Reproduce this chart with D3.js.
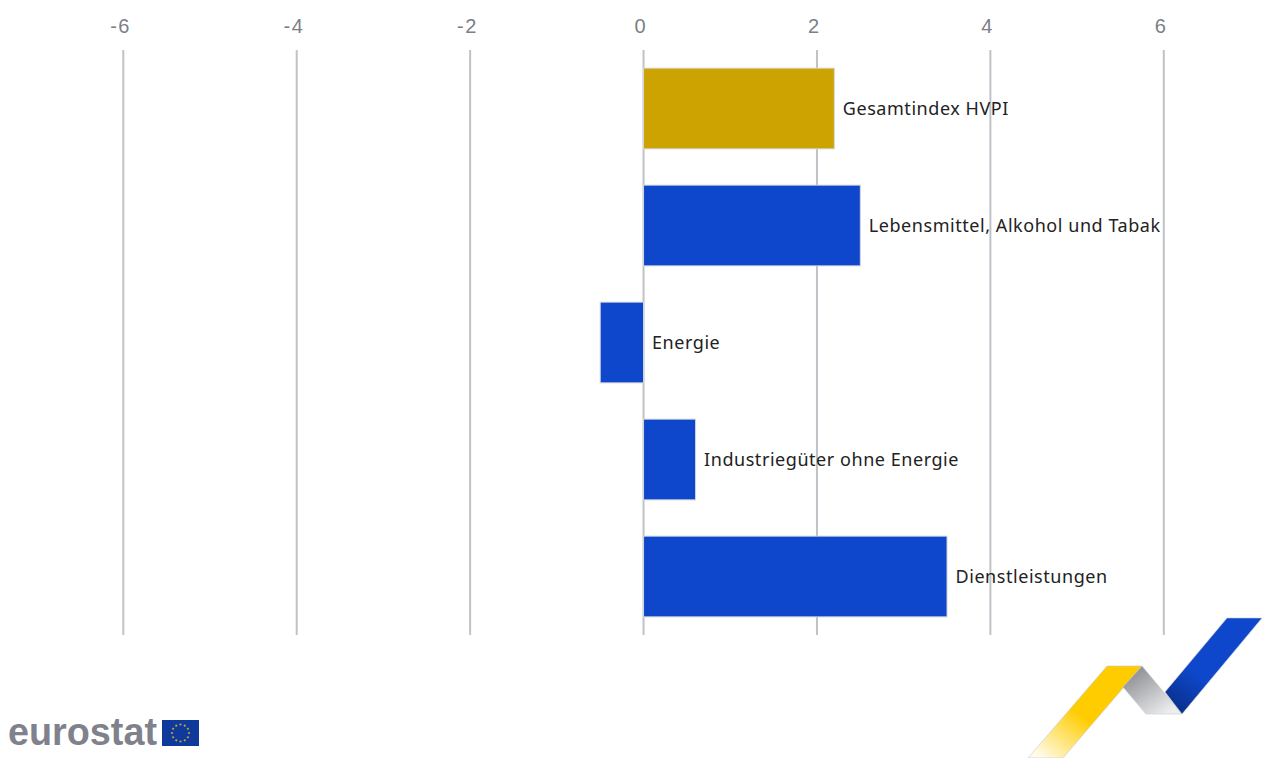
<!DOCTYPE html>
<html>
<head>
<meta charset="utf-8">
<script src="https://cdn.jsdelivr.net/npm/d3@7"></script>
<style>
  html, body { margin: 0; padding: 0; background: #fff; overflow: hidden; }
  svg { display: block; }
</style>
</head>
<body>
<div id="chart"></div>
<script>
var categories = ["Gesamtindex HVPI", "Lebensmittel, Alkohol und Tabak", "Energie", "Industriegüter ohne Energie", "Dienstleistungen"];
var values = [2.2, 2.5, -0.5, 0.6, 3.5];
var tickValues = [-6, -4, -2, 0, 2, 4, 6];
var barColors = ["#cca300", "#0f47cc", "#0f47cc", "#0f47cc", "#0f47cc"];

var width = 1263, height = 758;

var svg = d3.select("#chart").append("svg")
  .attr("width", width)
  .attr("height", height);

var x = d3.scaleLinear().domain([-6, 6]).range([123.3, 1163.8]);
var y = d3.scaleBand().domain(categories).range([50, 635]).paddingInner(0.31).paddingOuter(0.155);

// grid lines
svg.append("g").selectAll("line")
  .data(tickValues)
  .enter()
  .append("line")
  .attr("x1", function(d) { return x(d); })
  .attr("x2", function(d) { return x(d); })
  .attr("y1", 50)
  .attr("y2", 635)
  .attr("stroke", "#bfc2c7")
  .attr("stroke-width", 2);

// tick labels
svg.append("g").selectAll("text")
  .data(tickValues)
  .enter()
  .append("text")
  .attr("x", function(d) { return x(d) - 2.7; })
  .attr("y", 33)
  .attr("text-anchor", "middle")
  .attr("font-family", "'Liberation Sans', Arial, sans-serif")
  .attr("font-size", 20)
  .attr("letter-spacing", 1.5)
  .attr("fill", "#7c7f86")
  .text(function(d) { return d; });

// bars
svg.append("g").selectAll("rect")
  .data(values)
  .enter()
  .append("rect")
  .attr("x", function(d) { return x(Math.min(0, d)); })
  .attr("y", function(d, i) { return y(categories[i]); })
  .attr("width", function(d) { return Math.abs(x(d) - x(0)); })
  .attr("height", y.bandwidth())
  .attr("fill", function(d, i) { return barColors[i]; })
  .attr("stroke", "#d4d6da")
  .attr("stroke-width", 1);

// bar labels, always to the right of the zero/bar end
svg.append("g").selectAll("text")
  .data(values)
  .enter()
  .append("text")
  .attr("x", function(d) { return x(Math.max(0, d)) + 8.5; })
  .attr("y", function(d, i) { return y(categories[i]) + y.bandwidth() / 2 + 6; })
  .attr("font-family", "'Noto Sans', sans-serif")
  .attr("font-size", 18)
  .attr("letter-spacing", 0.55)
  .attr("fill", "#222")
  .text(function(d, i) { return categories[i]; });

// eurostat logo
svg.append("text")
  .attr("x", 8)
  .attr("y", 745)
  .attr("font-family", "'Liberation Sans', Arial, sans-serif")
  .attr("font-weight", "bold")
  .attr("font-size", 38)
  .attr("fill", "#7f828c")
  .attr("textLength", 149)
  .attr("lengthAdjust", "spacingAndGlyphs")
  .text("eurostat");

svg.append("rect")
  .attr("x", 162)
  .attr("y", 720)
  .attr("width", 37)
  .attr("height", 26)
  .attr("fill", "#0f3a9c");

svg.append("g").selectAll("circle")
  .data(d3.range(12))
  .enter()
  .append("circle")
  .attr("cx", function(d) { return 180.5 + 8.5 * Math.cos(d * Math.PI / 6); })
  .attr("cy", function(d) { return 733 + 8.5 * Math.sin(d * Math.PI / 6); })
  .attr("r", 1.1)
  .attr("fill", "#b9a83a");

// ribbon
var defs = svg.append("defs");

function gradient(id, x1, y1, x2, y2, stops) {
  var g = defs.append("linearGradient")
    .attr("id", id)
    .attr("gradientUnits", "userSpaceOnUse")
    .attr("x1", x1).attr("y1", y1)
    .attr("x2", x2).attr("y2", y2);
  stops.forEach(function(s) {
    g.append("stop").attr("offset", s[0]).attr("stop-color", s[1]);
  });
}

gradient("ribYellow", 1100, 690, 1045, 760, [[0, "#ffcc00"], [0.35, "#ffcc00"], [1, "#fffbe8"]]);
gradient("ribGray", 1135, 670, 1165, 714, [[0, "#8e9095"], [1, "#eceded"]]);
gradient("ribBlue", 1215, 650, 1172, 710, [[0, "#0f47cc"], [0.4, "#0f47cc"], [1, "#082f88"]]);

var ribbon = [
  { fill: "url(#ribYellow)", pts: [[1107, 666], [1142, 666], [1063, 758], [1028, 758]] },
  { fill: "url(#ribGray)", pts: [[1142, 666], [1123, 687], [1146, 714], [1182, 714]] },
  { fill: "url(#ribBlue)", pts: [[1227, 618], [1262, 618], [1182, 714], [1165, 692]] }
];

svg.append("g").selectAll("polygon")
  .data(ribbon)
  .enter()
  .append("polygon")
  .attr("points", function(d) { return d.pts.join(" "); })
  .attr("fill", function(d) { return d.fill; })
  .attr("stroke", "#c8cacd")
  .attr("stroke-width", 0.6);
</script>
</body>
</html>
